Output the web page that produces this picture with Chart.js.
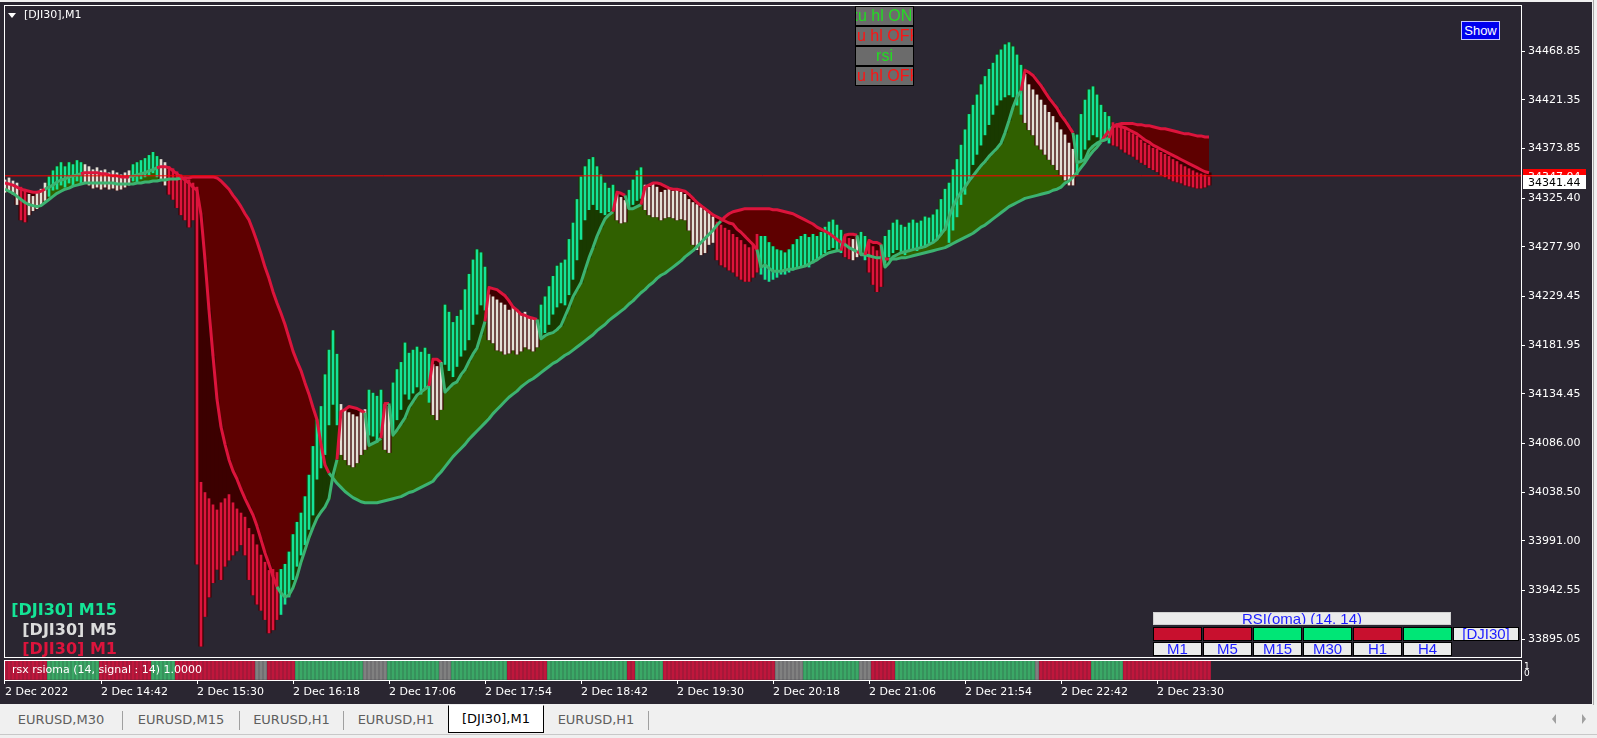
<!DOCTYPE html>
<html>
<head>
<meta charset="utf-8">
<script src="https://cdn.jsdelivr.net/npm/chart.js@4.4.0/dist/chart.umd.min.js"></script>
<style>
  body { margin:0; width:1597px; height:738px; background:#f0f0f0; overflow:hidden; position:relative; font-family:"DejaVu Sans", sans-serif; }
  #win { position:absolute; left:0; top:2px; width:1592px; height:702px; background:#2a2631; }
  #edge { position:absolute; left:1593px; top:0; width:1px; height:705px; background:#a8a8a8; }
  canvas { position:absolute; }
  .frame { position:absolute; border:1px solid #fff; box-sizing:border-box; pointer-events:none; }
  .btn { position:absolute; left:855px; width:59px; height:20px; background:#6b6b6b; border:1px solid #000; box-sizing:border-box;
         overflow:hidden; white-space:nowrap; font:16px "Liberation Sans", Arial, sans-serif; line-height:18px; }
  .tf { position:absolute; right:1480px; white-space:nowrap; font:bold 16px "DejaVu Sans", sans-serif; }
  .cell { position:absolute; height:14px; box-sizing:border-box; border:1px solid #000; overflow:hidden; white-space:nowrap;
          text-align:center; font:15px "Liberation Sans", Arial, sans-serif; line-height:12px; color:#1c1cff; background:#ebebeb; }
  .tab { position:absolute; top:707px; height:26px; text-align:center; font:13px "DejaVu Sans", sans-serif; line-height:26px; color:#5e5e5e; }
  .sep { position:absolute; top:711px; width:1px; height:19px; background:#a0a0a0; }
  .mini { position:absolute; left:1524px; font:9px "DejaVu Sans", sans-serif; color:#fff; line-height:9px; }
</style>
</head>
<body>
<div id="win"></div>
<div id="edge"></div>

<canvas id="main" width="1588" height="652" style="left:4px;top:5px"></canvas>
<canvas id="rsx" width="1588" height="44" style="left:4px;top:660px"></canvas>

<div class="frame" style="left:4px;top:5px;width:1518px;height:653px"></div>
<div class="frame" style="left:4px;top:660px;width:1518px;height:21px"></div>
<div class="mini" style="top:662px">1</div>
<div class="mini" style="top:669px">0</div>

<!-- chart caption -->
<div style="position:absolute;left:8px;top:13px;width:0;height:0;border-left:4px solid transparent;border-right:4px solid transparent;border-top:5px solid #fff"></div>
<div style="position:absolute;left:24px;top:8px;font:11px 'DejaVu Sans';color:#fff">[DJI30],M1</div>

<!-- buttons -->
<div class="btn" style="top:6px;color:#22dd22;text-indent:-6px">xu hl ON</div>
<div class="btn" style="top:26px;color:#ff1414;padding-left:1px">u hl OFF</div>
<div class="btn" style="top:46px;color:#22dd22;text-align:center">rsi</div>
<div class="btn" style="top:66px;color:#ff1414;padding-left:1px">u hl OFF</div>
<div style="position:absolute;left:1461px;top:21px;width:39px;height:19px;box-sizing:border-box;background:#0000ee;border:1px solid #c8c8ff;color:#fff;font:13px 'Liberation Sans',Arial,sans-serif;line-height:17px;text-align:center">Show</div>

<!-- timeframe labels -->
<div class="tf" style="top:600px;color:#14e496">[DJI30] M15</div>
<div class="tf" style="top:620px;color:#dcdcdc">[DJI30] M5</div>
<div class="tf" style="top:639px;color:#dc143c">[DJI30] M1</div>

<!-- rsx label -->
<div style="position:absolute;left:12px;top:663px;font:11px 'DejaVu Sans';color:#fff;white-space:nowrap">rsx rsioma (14, signal : 14) 1.0000</div>

<!-- RSI(oma) table -->
<div class="cell" style="left:1153px;top:612px;width:298px;height:13px;border-color:#d0d0d0">RSI(oma) (14, 14)</div>
<div id="table"></div>

<!-- tabs -->
<div class="tab" style="left:0;width:122px">EURUSD,M30</div>
<div class="sep" style="left:122px"></div>
<div class="tab" style="left:123px;width:116px">EURUSD,M15</div>
<div class="sep" style="left:239px"></div>
<div class="tab" style="left:240px;width:103px">EURUSD,H1</div>
<div class="sep" style="left:343px"></div>
<div class="tab" style="left:344px;width:104px">EURUSD,H1</div>
<div class="tab" style="left:448px;top:705px;width:96px;height:28px;box-sizing:border-box;background:#fff;border:1px solid #000;border-top-color:#fff;color:#000;line-height:26px">[DJI30],M1</div>
<div class="tab" style="left:544px;width:104px">EURUSD,H1</div>
<div class="sep" style="left:648px"></div>
<div style="position:absolute;left:0;top:734px;width:1597px;height:1px;background:#c8c8c8"></div>
<div style="position:absolute;left:1552px;top:714px;width:0;height:0;border-top:5px solid transparent;border-bottom:5px solid transparent;border-right:4px solid #a0a0a0"></div>
<div style="position:absolute;left:1582px;top:714px;width:0;height:0;border-top:5px solid transparent;border-bottom:5px solid transparent;border-left:4px solid #a0a0a0"></div>

<script>
// ---- data (M1 chart sampled every 2 minutes from 13:54) ----
const barHigh = [
  34343,34345,34342,34340,34336,34334,34329,34327,34331,34334,
  34340,34346,34352,34356,34360,34356,34360,34358,34362,34360,
  34358,34356,34353,34355,34352,34353,34350,34352,34350,34348,
  34350,34352,34358,34360,34362,34364,34367,34370,34366,34363,
  34360,
  34356,34354,34351,34348,34346,34343,34340,34336,34048,34038,
  34032,34026,34021,34028,34032,34036,34028,34022,34018,34014,
  34003,33997,33987,33977,33970,33962,33963,33960,33963,33968,
  33980,33997,34009,34018,34034,34055,34083,34109,34122,34153,
  34177,34196,34173,34124,34119,34116,34114,34112,34116,34119,
  34138,34135,34132,34138,34124,34122,34145,34158,34165,34184,
  34174,34177,34180,34175,34179,34173,34163,34161,34165,34221,
  34214,34204,34210,34216,34236,34251,34265,34275,34272,34258,
  34231,34229,34226,34223,34221,34216,34219,34215,34212,34214,
  34210,34208,34206,34221,34229,34239,34249,34259,34262,34265,
  34285,34301,34324,34346,34356,34363,34365,34356,34348,34340,
  34335,34338,34329,34326,34323,34333,34343,34352,34355,34338,
  34336,34340,34336,34331,34333,34334,34332,34333,34331,34329,
  34324,34321,34319,34316,34314,34311,34307,34302,34299,34296,
  34294,34290,34287,34284,34280,34277,34280,34290,34288,
  34288,34282,34278,34275,34274,34272,34275,34280,34285,34288,
  34290,34287,34290,34288,34292,34297,34302,34304,34299,34294,
  34288,34286,34285,34287,34292,34288,34282,34278,34274,34280,
  34288,34294,34301,34304,34299,34297,34301,34304,34301,34303,
  34307,34306,34309,34314,34324,34334,
  34340,34353,34363,34377,34392,34407,34416,34426,34436,34444,
  34451,34457,34465,34470,34475,34477,34473,34465,34455,34446,
  34436,34431,34426,34421,34416,34409,34405,34399,34392,34387,
  34379,34373,34387,34407,34421,34431,34434,34426,34416,34409,
  34405,34399,34398,34396,34393,34390,34388,34386,34382,34379,
  34377,34374,34373,34370,34368,34366,34363,34361,34358,34356,
  34354,34352,34350,34349,34348,34346
];
const barLow = [
  34331,34333,34329,34319,34304,34302,34309,34313,34315,34319,
  34323,34327,34333,34334,34338,34336,34340,34338,34342,34340,
  34341,34338,34335,34336,34334,34336,34334,34335,34333,34334,
  34336,34338,34342,34340,34344,34346,34348,34350,34346,34344,
  34338,
  34329,34324,34316,34309,34304,34297,34304,33968,33888,33917,
  33936,33950,33963,33953,33966,33972,33977,33981,33987,33977,
  33953,33938,33929,33923,33914,33901,33904,33914,33919,33929,
  33936,33953,33966,33977,33987,34002,34016,34051,34062,34075,
  34104,34124,34104,34075,34070,34065,34063,34067,34075,34080,
  34094,34093,34087,34096,34080,34077,34096,34109,34119,34134,
  34129,34135,34141,34134,34139,34126,34114,34109,34119,34163,
  34157,34151,34161,34171,34177,34187,34202,34212,34221,34216,
  34187,34184,34177,34176,34173,34174,34177,34173,34176,34180,
  34178,34176,34180,34190,34194,34202,34212,34219,34223,34221,
  34231,34246,34265,34285,34304,34314,34319,34314,34311,34309,
  34312,34314,34304,34301,34302,34315,34319,34323,34325,34314,
  34309,34307,34307,34304,34306,34307,34306,34304,34305,34304,
  34294,34280,34275,34270,34272,34280,34282,34265,34260,34258,
  34255,34253,34249,34246,34244,34244,34248,34253,34251,
  34246,34244,34246,34248,34251,34251,34253,34255,34258,34258,
  34260,34258,34262,34265,34268,34272,34275,34277,34275,34272,
  34268,34266,34265,34268,34272,34265,34253,34241,34234,34239,
  34262,34268,34272,34275,34272,34270,34274,34276,34274,34276,
  34278,34280,34282,34285,34290,34294,
  34282,34294,34307,34319,34329,34343,34358,34368,34377,34387,
  34397,34407,34416,34421,34424,34426,34424,34416,34407,34399,
  34392,34387,34377,34373,34368,34363,34358,34353,34348,34343,
  34338,34338,34348,34363,34373,34382,34387,34385,34382,34382,
  34379,34377,34376,34373,34370,34368,34366,34363,34360,34358,
  34355,34353,34351,34348,34346,34344,34342,34341,34340,34338,
  34337,34336,34335,34335,34336,34338
];
const fastLine = [
  34340,34339,34338,34336,34334,34333,34332,34331,34331,34332,
  34334,34336,34338,34341,34343,34344,34346,34347,34348,34349,
  34350,34350,34350,34350,34349,34349,34348,34347,34347,34346,
  34346,34346,34347,34348,34349,34350,34352,34353,34355,34356,
  34356,
  34355,34352,34349,34346,34343,34340,34336,34333,34309,34265,
  34216,34171,34129,34102,34085,34070,34059,34051,34041,34032,
  34024,34016,34005,33992,33979,33968,33956,33946,33940,33936,
  33938,33945,33956,33970,33982,33994,34004,34013,34019,34024,
  34032,34055,34070,34117,34119,34122,34121,34120,34118,34116,
  34084,34086,34088,34091,34125,34125,34094,34099,34105,34111,
  34121,34127,34133,34136,34139,34142,34168,34168,34165,34136,
  34140,34144,34146,34153,34158,34166,34173,34179,34192,34205,
  34238,34237,34236,34233,34230,34225,34219,34216,34212,34211,
  34209,34208,34207,34188,34191,34193,34194,34197,34201,34210,
  34219,34229,34236,34243,34255,34267,34277,34288,34297,34305,
  34309,34312,34331,34330,34328,34315,34315,34317,34319,34336,
  34338,34340,34340,34339,34337,34335,34334,34334,34333,34332,
  34329,34325,34321,34318,34315,34312,34309,34307,34305,34303,
  34301,34300,34295,34292,34288,34284,34280,34275,34258,
  34260,34257,34254,34254,34254,34255,34256,34256,34257,34258,
  34259,34261,34263,34265,34268,34270,34272,34273,34274,34274,
  34289,34290,34290,34289,34270,34270,34284,34282,34282,34280,
  34258,34262,34268,34270,34272,34273,34274,34275,34276,34277,
  34278,34280,34282,34285,34290,34295,
  34307,34317,34325,34331,34336,34342,34347,34352,34357,34361,
  34366,34370,34374,34379,34389,34401,34414,34424,34430,34450,
  34448,34445,34440,34435,34429,34423,34418,34413,34406,34401,
  34395,34389,34360,34361,34363,34372,34376,34379,34381,34382,
  34384,34395,34396,34395,34394,34392,34390,34388,34385,34382,
  34380,34377,34375,34373,34371,34369,34367,34365,34363,34361,
  34359,34357,34355,34353,34351,34350
];
const slowLine = [
  34334,34332,34330,34327,34324,34321,34319,34318,34317,34318,
  34321,34324,34327,34330,34332,34334,34335,34337,34338,34339,
  34340,34340,34340,34340,34340,34340,34340,34340,34339,34339,
  34339,34339,34339,34340,34340,34341,34341,34342,34342,34343,
  34343,
  34344,34344,34344,34345,34345,34345,34346,34346,34346,34346,
  34346,34346,34345,34342,34338,34334,34328,34323,34317,34310,
  34304,34294,34283,34271,34258,34247,34234,34223,34213,34202,
  34189,34176,34166,34157,34145,34134,34121,34109,34085,34065,
  34057,34052,34047,34043,34039,34036,34033,34031,34029,34028,
  34028,34028,34028,34029,34030,34031,34032,34033,34034,34036,
  34038,34039,34041,34043,34045,34047,34049,34054,34058,34063,
  34068,34073,34077,34081,34085,34090,34094,34098,34102,34106,
  34110,34115,34119,34123,34127,34131,34134,34137,34141,34144,
  34147,34149,34152,34155,34158,34161,34164,34166,34169,34172,
  34174,34177,34180,34183,34186,34189,34192,34196,34199,34202,
  34206,34209,34212,34215,34218,34222,34225,34229,34233,34236,
  34240,34243,34247,34250,34252,34255,34258,34261,34264,34268,
  34271,34274,34278,34282,34286,34290,34294,34299,34303,34307,
  34310,34312,34313,34314,34315,34315,34315,34315,34315,
  34315,34315,34314,34314,34313,34312,34311,34310,34308,34306,
  34304,34302,34300,34297,34295,34293,34291,34288,34285,34282,
  34280,34277,34275,34273,34271,34270,34269,34268,34267,34267,
  34266,34266,34266,34266,34267,34267,34268,34269,34270,34271,
  34272,34273,34274,34275,34276,34277,
  34279,34281,34283,34285,34287,34289,34291,34294,34297,34299,
  34302,34305,34308,34311,34314,34317,34319,34321,34323,34325,
  34326,34327,34328,34329,34330,34331,34333,34334,34336,34340,
  34342,34346,34350,34355,34360,34366,34371,34375,34380,34386,
  34391,34395,34397,34398,34398,34398,34398,34397,34397,34396,
  34396,34395,34394,34393,34393,34392,34391,34390,34389,34388,
  34388,34387,34386,34386,34385,34385
];
const barStepMinutes = 2;
const askPrice = 34347.04;
const bidPrice = 34341.44;
const priceTicks = [34468.85, 34421.35, 34373.85, 34325.40, 34277.90, 34229.45, 34181.95,
                    34134.45, 34086.00, 34038.50, 33991.00, 33942.55, 33895.05];
const timeTickMinutes = [0, 48, 96, 144, 192, 240, 288, 336, 384, 432, 480, 528, 576];
const timeLabels = ['2 Dec 2022', '2 Dec 14:42', '2 Dec 15:30', '2 Dec 16:18', '2 Dec 17:06', '2 Dec 17:54',
                    '2 Dec 18:42', '2 Dec 19:30', '2 Dec 20:18', '2 Dec 21:06', '2 Dec 21:54', '2 Dec 22:42', '2 Dec 23:30'];
// rsx rsioma strip: run lengths (in bars) and states
const rsxRunLengths = [11, 13, 13, 6, 20, 3, 7, 17, 6, 13, 3, 14, 10, 20, 2, 7, 28, 7, 14, 3, 6, 35, 1, 13, 8, 22];
const rsxRunStates  = ['dn','up','dn','up','dn','flat','dn','up','flat','up','flat','up','dn','up','dn','up',
                       'dn','flat','up','flat','dn','up','flat','dn','up','dn'];
// multi timeframe table
const tfNames  = ['M1', 'M5', 'M15', 'M30', 'H1', 'H4'];
const tfStates = ['dn', 'dn', 'up', 'up', 'dn', 'up'];

// ---- styles ----
const GREEN_LINE = '#3cb371', RED_LINE = '#dc143c';
const BAR_UP = '#14e496', BAR_MID = '#e4e0d6', BAR_DN = '#dc143c';
const FILL_UP = '#306000', FILL_DN = '#5e0000';
const SHADE_UP = '#193a00', SHADE_DN = '#3c0000';

Chart.defaults.font.family = '"DejaVu Sans", sans-serif';
Chart.defaults.font.size = 11;
Chart.defaults.color = '#ffffff';

const xs = barHigh.map((_, i) => i * barStepMinutes);
const mid = i => (barHigh[i] + barLow[i]) / 2;
const isUp = i => mid(i) > fastLine[i];

function barColor(i) {
  if (isUp(i)) return BAR_UP;
  if (fastLine[i] < slowLine[i] || mid(i) < slowLine[i]) return BAR_DN;
  return BAR_MID;
}

const priceTags = {
  id: 'priceTags',
  afterDraw(chart) {
    const { ctx, chartArea, scales: { y } } = chart;
    const x0 = chartArea.right + 2;
    const tag = (v, bg, fg) => {
      const py = Math.round(y.getPixelForValue(v));
      ctx.save();
      ctx.fillStyle = bg;
      ctx.fillRect(x0, py - 7, 63, 14);
      ctx.fillStyle = fg;
      ctx.font = '11px "DejaVu Sans"';
      ctx.textBaseline = 'middle';
      ctx.textAlign = 'left';
      ctx.fillText(v.toFixed(2), x0 + 5, py + 1);
      ctx.restore();
    };
    tag(askPrice, '#ff0000', '#ffffff');
    tag(bidPrice, '#ffffff', '#000000');
  }
};

const xMin = -0.5, xMax = 758;

new Chart(document.getElementById('main'), {
  type: 'line',
  data: {
    datasets: [
      {
        label: 'fast',
        data: fastLine.map((v, i) => ({ x: xs[i], y: v })),
        borderColor: GREEN_LINE,
        borderWidth: 3,
        borderJoinStyle: 'round',
        pointRadius: 0,
        segment: { borderColor: c => isUp(c.p1DataIndex) ? GREEN_LINE : RED_LINE },
        fill: { target: 1, above: FILL_UP, below: FILL_DN },
        order: 1
      },
      {
        label: 'slow',
        data: slowLine.map((v, i) => ({ x: xs[i], y: v })),
        borderColor: GREEN_LINE,
        borderWidth: 3,
        borderJoinStyle: 'round',
        pointRadius: 0,
        segment: { borderColor: c => fastLine[c.p1DataIndex] >= slowLine[c.p1DataIndex] ? GREEN_LINE : RED_LINE },
        fill: false,
        order: 2
      },
      {
        type: 'bar',
        label: 'bars',
        data: barHigh.map((h, i) => ({ x: xs[i], y: [barLow[i], h] })),
        backgroundColor: barHigh.map((_, i) => barColor(i)),
        barThickness: 2,
        grouped: false,
        order: 3
      },
      {
        type: 'bar',
        label: 'shade',
        data: barHigh.map((h, i) => ({ x: xs[i], y: isUp(i) ? [fastLine[i], h] : [barLow[i], fastLine[i]] })),
        backgroundColor: barHigh.map((_, i) => isUp(i) ? SHADE_UP : SHADE_DN),
        barThickness: 4.4,
        grouped: false,
        order: 4
      },
      {
        label: 'ask',
        data: [{ x: xMin, y: askPrice }, { x: xMax, y: askPrice }],
        borderColor: '#ff0000',
        borderWidth: 1,
        pointRadius: 0,
        fill: false,
        order: 0
      }
    ]
  },
  options: {
    responsive: false,
    animation: false,
    events: [],
    layout: { padding: 0 },
    plugins: { legend: { display: false }, tooltip: { enabled: false }, filler: { drawTime: 'beforeDatasetsDraw' } },
    scales: {
      x: { type: 'linear', display: false, offset: false, grid: { offset: false }, min: xMin, max: xMax },
      y: {
        position: 'right',
        min: 33877.51,
        max: 34513.74,
        afterBuildTicks: s => { s.ticks = priceTicks.map(v => ({ value: v })); },
        afterFit: s => { s.width = 71; s.paddingTop = 0; s.paddingBottom = 0; },
        ticks: { autoSkip: false, padding: 3, color: '#ffffff', callback: v => v.toFixed(2) },
        grid: { drawOnChartArea: false, tickLength: 4, tickColor: '#ffffff' },
        border: { display: false }
      }
    }
  },
  plugins: [priceTags]
});

// rsx strip
const rsxState = [];
rsxRunLengths.forEach((n, k) => { for (let j = 0; j < n; j++) rsxState.push(rsxRunStates[k]); });
const rsxColor = { up: '#3aa866', dn: '#c0163c', flat: '#808080' };

new Chart(document.getElementById('rsx'), {
  type: 'bar',
  data: {
    datasets: [{
      data: rsxState.map((s, i) => ({ x: xs[i], y: 1 })),
      backgroundColor: rsxState.map(s => rsxColor[s]),
      barThickness: 3,
      grouped: false
    }]
  },
  options: {
    responsive: false,
    animation: false,
    events: [],
    layout: { padding: 0 },
    plugins: { legend: { display: false }, tooltip: { enabled: false } },
    scales: {
      x: {
        type: 'linear',
        offset: false,
        min: xMin,
        max: xMax,
        afterBuildTicks: s => { s.ticks = timeTickMinutes.map(v => ({ value: v })); },
        afterFit: s => { s.height = 24; s.paddingLeft = 0; s.paddingRight = 0; },
        ticks: { autoSkip: false, maxRotation: 0, align: 'start', padding: 2, color: '#ffffff',
                 callback: (v, idx) => timeLabels[idx] },
        grid: { drawOnChartArea: false, offset: false, tickLength: 4, tickColor: '#ffffff' },
        border: { display: false }
      },
      y: {
        position: 'right',
        min: 0,
        max: 1,
        afterFit: s => { s.width = 71; s.paddingTop = 0; s.paddingBottom = 0; },
        ticks: { display: false },
        grid: { drawOnChartArea: false, drawTicks: false },
        border: { display: false }
      }
    }
  }
});

// timeframe table
const table = document.getElementById('table');
tfNames.forEach((name, k) => {
  const left = 1153 + k * 50;
  const c = document.createElement('div');
  c.className = 'cell';
  c.style.cssText = `left:${left}px;top:627px;width:49px;background:${tfStates[k] === 'up' ? '#00e676' : '#c8102e'}`;
  table.appendChild(c);
  const l = document.createElement('div');
  l.className = 'cell';
  l.style.cssText = `left:${left}px;top:642px;width:49px`;
  l.textContent = name;
  table.appendChild(l);
});
const sym = document.createElement('div');
sym.className = 'cell';
sym.style.cssText = 'left:1453px;top:627px;width:66px';
sym.textContent = '[DJI30]';
table.appendChild(sym);
</script>
</body>
</html>
